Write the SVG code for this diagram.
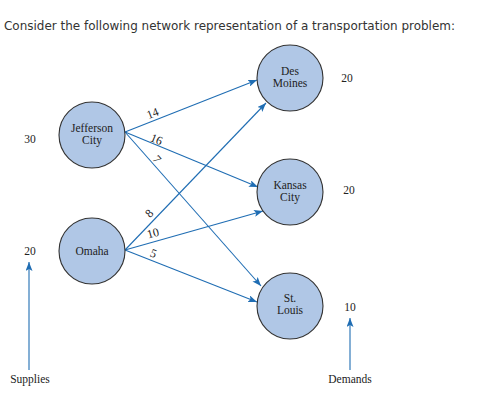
<svg xmlns="http://www.w3.org/2000/svg" width="495" height="405" viewBox="0 0 495 405">
<defs>
<marker id="ah" markerWidth="9" markerHeight="7" refX="9" refY="3.5" orient="auto" markerUnits="userSpaceOnUse">
<path d="M0,0 L9,3.5 L0,7 L2,3.5 Z" fill="#1f6db3"/>
</marker>
<style>
.title{font-family:"DejaVu Sans",Verdana,sans-serif;font-size:12px;fill:#333}
.node circle{fill:#b0c7e6;stroke:#333;stroke-width:1.1}
.t{font-family:"Liberation Serif","Times New Roman",serif;font-size:11.5px;fill:#222;text-anchor:middle}
.e{stroke:#1f6db3;stroke-width:1.1;fill:none;marker-end:url(#ah)}
.c{font-family:"Liberation Serif","Times New Roman",serif;font-size:12px;fill:#222;text-anchor:middle}
</style>
</defs>
<rect width="495" height="405" fill="#fff"/>
<text class="title" x="4" y="30" textLength="451" lengthAdjust="spacingAndGlyphs">Consider the following network representation of a transportation problem:</text>

<g id="connectors">
<line class="e" x1="125" y1="132" x2="257" y2="80"/>
<line class="e" x1="125" y1="132" x2="258" y2="187"/>
<line class="e" x1="125" y1="132" x2="261" y2="286"/>
<line class="e" x1="125" y1="250" x2="266" y2="103"/>
<line class="e" x1="125" y1="250" x2="263" y2="211"/>
<line class="e" x1="125" y1="250" x2="257" y2="302"/>
<line class="e" x1="29" y1="370" x2="29" y2="262"/>
<line class="e" x1="350" y1="370" x2="350" y2="318"/>
</g>

<g id="edge-labels">
<text class="c" transform="translate(154,117) rotate(-21.5)">14</text>
<text class="c" transform="translate(155,143) rotate(22.5)">16</text>
<text class="c" transform="translate(154,162) rotate(48)">7</text>
<text class="c" transform="translate(152,216) rotate(-46)">8</text>
<text class="c" transform="translate(154,237) rotate(-15.4)">10</text>
<text class="c" transform="translate(152,257) rotate(21.5)">5</text>
</g>

<g id="jefferson-city" class="node">
<circle cx="92" cy="135" r="33"/>
<text class="t" x="92" y="132">Jefferson</text>
<text class="t" x="92" y="144">City</text>
</g>
<g id="omaha" class="node">
<circle cx="92" cy="251" r="33"/>
<text class="t" x="92" y="255">Omaha</text>
</g>
<g id="des-moines" class="node">
<circle cx="290" cy="78" r="33"/>
<text class="t" x="290" y="75">Des</text>
<text class="t" x="290" y="87">Moines</text>
</g>
<g id="kansas-city" class="node">
<circle cx="290" cy="192" r="33"/>
<text class="t" x="290" y="189">Kansas</text>
<text class="t" x="290" y="201">City</text>
</g>
<g id="st-louis" class="node">
<circle cx="290" cy="306" r="33"/>
<text class="t" x="290" y="302">St.</text>
<text class="t" x="290" y="314">Louis</text>
</g>

<g id="values">
<text class="t" x="30" y="143">30</text>
<text class="t" x="30" y="255">20</text>
<text class="t" x="347" y="82">20</text>
<text class="t" x="349" y="194">20</text>
<text class="t" x="350" y="311">10</text>
<text class="t" x="30" y="383">Supplies</text>
<text class="t" x="350" y="383">Demands</text>
</g>
</svg>
